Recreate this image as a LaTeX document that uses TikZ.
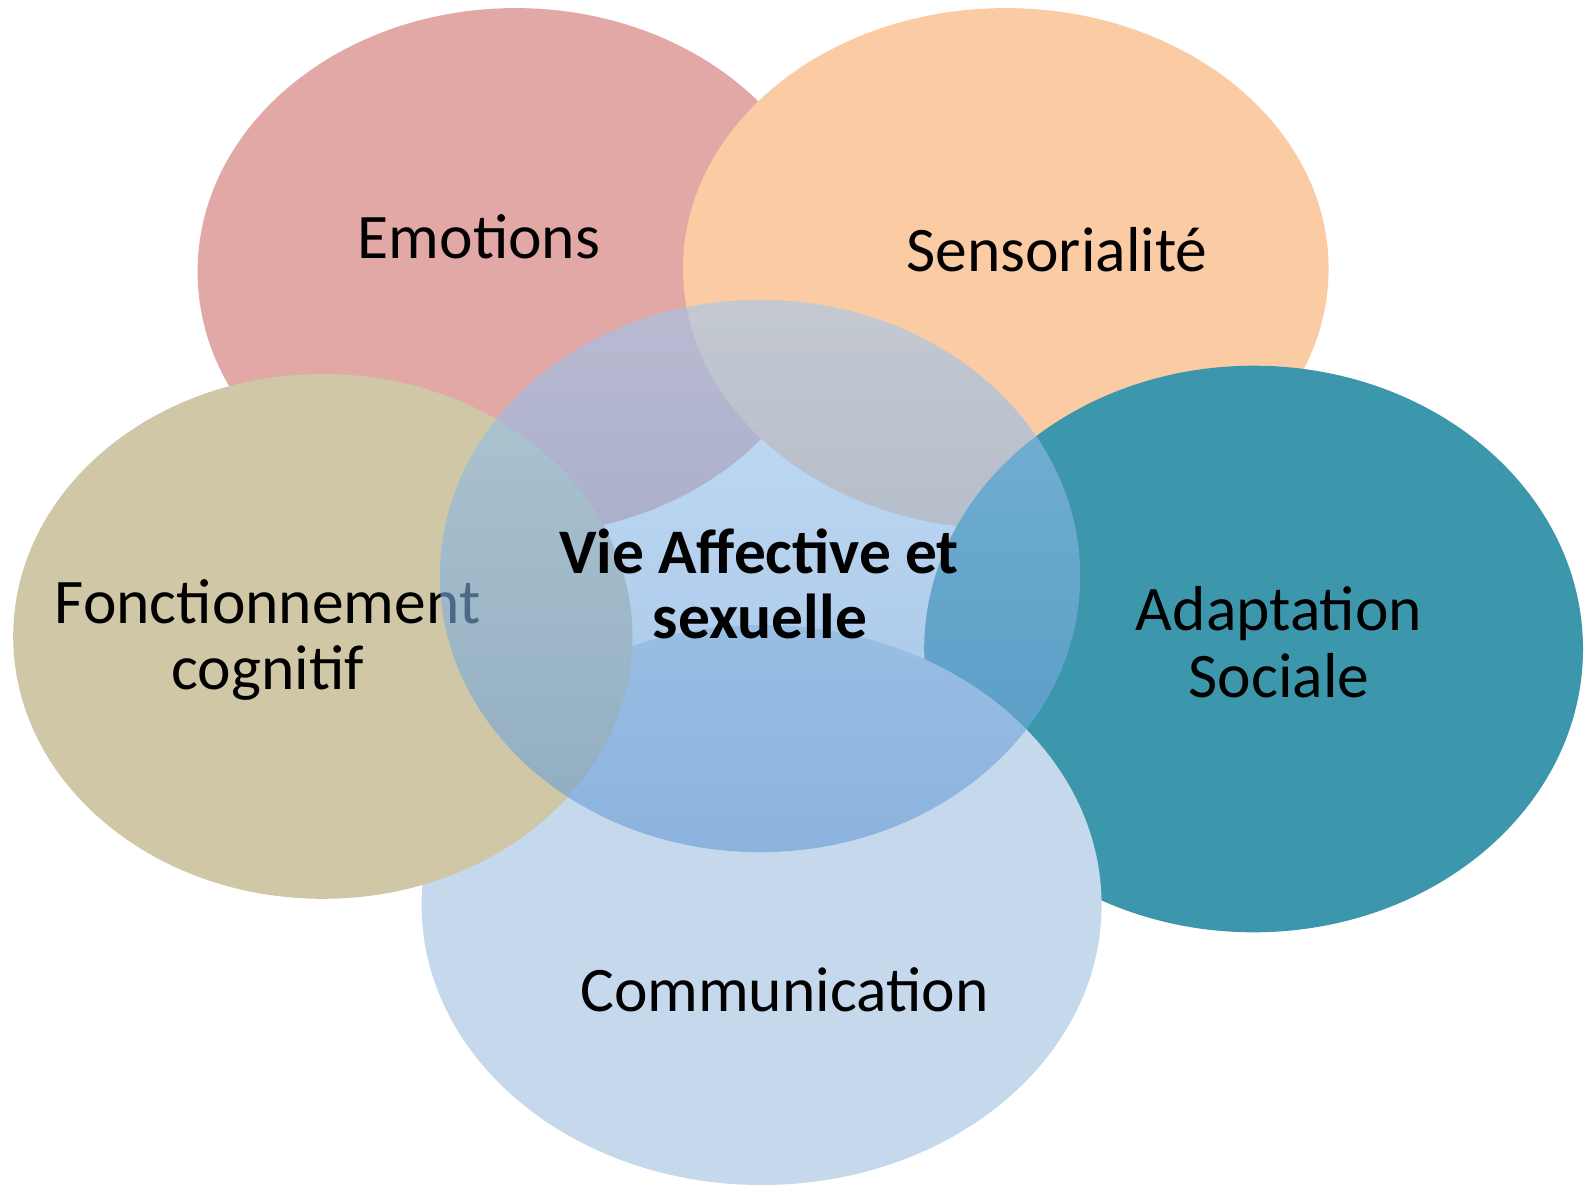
\documentclass[tikz,border=0pt]{standalone}
\usepackage{fontspec}
\setmainfont{Carlito}
\usetikzlibrary{shapes.geometric}
\definecolor{pinkE}{RGB}{226,168,166}
\definecolor{orangeS}{RGB}{251,203,164}
\definecolor{tealA}{RGB}{61,151,172}
\definecolor{khakiF}{RGB}{207,199,165}
\definecolor{blueC}{RGB}{197,216,236}
\definecolor{centTop}{RGB}{160,200,240}
\definecolor{centBot}{RGB}{100,155,212}
\begin{document}
\begin{tikzpicture}[x=1pt,y=-1pt,
  blob/.style={ellipse, inner sep=0pt, outer sep=0pt, draw=none},
  lbl/.style={font=\fontsize{63.5}{67}\selectfont, text=black, inner sep=0pt, anchor=base}]
\useasboundingbox (0,0) rectangle (1589,1184);
\fill[white] (0,0) rectangle (1589,1184);
% outer circles
\node[blob, fill=pinkE, minimum width=636pt, minimum height=527pt] (emo) at (515.6,271.6) {};
\node[lbl] (temo) at (479,258.4) {Emotions};
\node[blob, fill=orangeS, minimum width=645.6pt, minimum height=521pt] (sens) at (1005.8,268.6) {};
\node[lbl] (tsens) at (1057,271.6) {Sensorialité};
\node[blob, fill=tealA, minimum width=658.8pt, minimum height=566.6pt] (adap) at (1253.6,649) {};
\node[lbl] (tadap1) at (1279,630.3) {Adaptation};
\node[lbl] (tadap2) at (1279,697.2) {Sociale};
\node[blob, fill=blueC, minimum width=680pt, minimum height=560pt] (comm) at (761.6,905) {};
\node[lbl] (tcomm) at (784.4,1011) {Communication};
\node[blob, fill=khakiF, minimum width=619.2pt, minimum height=524.8pt] (fonc) at (322.8,636.4) {};
\node[lbl] (tfonc1) at (267.6,623.2) {Fonctionnement};
\node[lbl] (tfonc2) at (267.6,689.1) {cognitif};
% central circle
\node[blob, top color=centTop, bottom color=centBot, fill opacity=0.6, minimum width=640.4pt, minimum height=552.3pt] (vie) at (760,576) {};
\node[lbl, font=\fontsize{63.5}{67}\selectfont\bfseries] (tvie1) at (759,573.6) {Vie Affective et};
\node[lbl, font=\fontsize{63.5}{67}\selectfont\bfseries] (tvie2) at (760,638.4) {sexuelle};
\end{tikzpicture}
\end{document}
